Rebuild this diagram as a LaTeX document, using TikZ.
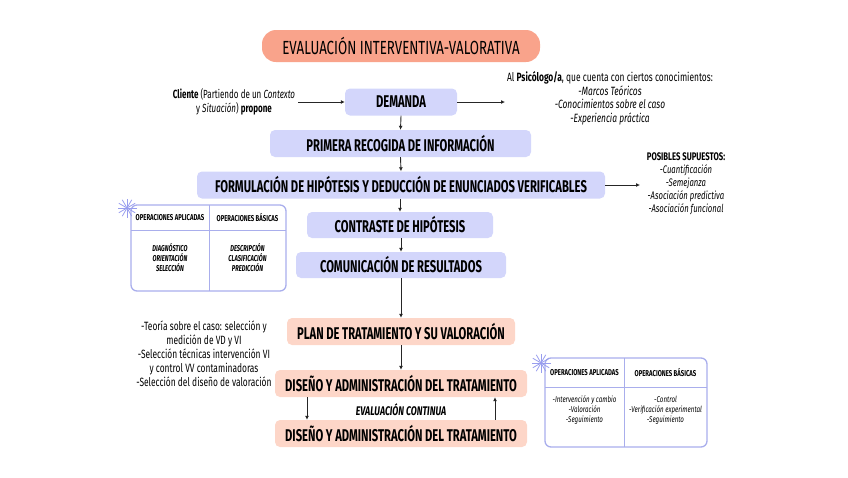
\documentclass[tikz,border=0pt]{standalone}
\usepackage{fontspec}
\usetikzlibrary{arrows.meta,calc}
\newfontfamily\cond[FakeStretch=0.66]{Fira Sans}
\newfontfamily\condt[FakeStretch=0.70]{Fira Sans}
\newfontfamily\condn[FakeStretch=0.68]{Fira Sans}
\newfontfamily\condr[FakeStretch=0.73]{Fira Sans}
\definecolor{lav}{HTML}{D3D6FB}
\definecolor{lavline}{HTML}{A9AEEC}
\definecolor{peach}{HTML}{FDD6C8}
\definecolor{salmon}{HTML}{F9A38B}
\tikzset{
  box/.style={rounded corners=5pt, inner sep=0pt, minimum height=27pt, text=black,
    font=\cond\bfseries\fontsize{17}{19}\selectfont},
  lavbox/.style={box, fill=lav},
  peachbox/.style={box, fill=peach},
  note/.style={align=center, font=\condt\fontsize{12}{13.5}\selectfont, inner sep=0pt},
  arr/.style={-{Latex[length=4pt,width=4pt]}, line width=0.9pt, black!85},
  tbl/.style={draw=lavline, line width=1.3pt, rounded corners=6pt},
  tline/.style={draw=lavline, line width=1pt},
  th/.style={font=\condt\bfseries\fontsize{8.5}{10}\selectfont, inner sep=0pt, align=center},
  td/.style={font=\condn\bfseries\itshape\fontsize{8.5}{10}\selectfont, inner sep=0pt, align=center},
  starline/.style={draw=lavline!90!blue, line width=0.8pt}
}
\begin{document}
\begin{tikzpicture}[x=1pt,y=-1pt]
\useasboundingbox (0,0) rectangle (848,477);
% title
\node[box, fill=salmon, rounded corners=14pt, minimum width=278pt, minimum height=32pt,
  font=\condt\fontsize{19}{21}\selectfont] (title) at (401,46) {EVALUACIÓN INTERVENTIVA-VALORATIVA};
% main chain
\node[lavbox, minimum width=112pt] (dem) at (401,102) {DEMANDA};
\node[lavbox, minimum width=261pt] (prim) at (400.5,143.5) {PRIMERA RECOGIDA DE INFORMACIÓN};
\node[lavbox, minimum width=408pt] (form) at (401,185) {FORMULACIÓN DE HIPÓTESIS Y DEDUCCIÓN DE ENUNCIADOS VERIFICABLES};
\node[lavbox, minimum width=186pt, minimum height=26pt] (cont) at (400,225) {CONTRASTE DE HIPÓTESIS};
\node[lavbox, minimum width=210pt, minimum height=26pt] (com) at (401,265) {COMUNICACIÓN DE RESULTADOS};
\node[peachbox, minimum width=228pt] (plan) at (401,331.5) {PLAN DE TRATAMIENTO Y SU VALORACIÓN};
\node[peachbox, minimum width=252pt] (dis1) at (401,383.5) {DISEÑO Y ADMINISTRACIÓN DEL TRATAMIENTO};
\node[peachbox, minimum width=252pt] (dis2) at (401,433.5) {DISEÑO Y ADMINISTRACIÓN DEL TRATAMIENTO};
\node[note, font=\condt\bfseries\itshape\fontsize{12.5}{14}\selectfont] (evc) at (401,410) {EVALUACIÓN CONTINUA};
% side texts
\node[note, font=\condn\fontsize{11.8}{13.5}\selectfont] (cli) at (234,102) {\textbf{Cliente} (Partiendo de un \textit{Contexto}\\ y \textit{Situación}) \textbf{propone}};
\node[note] (psi) at (610,98.5) {Al \textbf{Psicólogo/a}, que cuenta con ciertos conocimientos:\\ \textit{-Marcos Teóricos}\\ \textit{-Conocimientos sobre el caso}\\ \textit{-Experiencia práctica}};
\node[note, font=\condt\fontsize{11}{13}\selectfont] (sup) at (686,184) {\textbf{POSIBLES SUPUESTOS:}\\ \textit{-Cuantificación}\\ \textit{-Semejanza}\\ \textit{-Asociación predictiva}\\ \textit{-Asociación funcional}};
\node[note, font=\condt\fontsize{12}{14}\selectfont] (teo) at (204,354) {-Teoría sobre el caso: selección y\\ medición de VD y VI\\ -Selección técnicas intervención VI\\ y control VV contaminadoras\\ -Selección del diseño de valoración};
% connectors
\coordinate (cliE) at (298,102);
\coordinate (psiW) at (505,102);
\coordinate (supW) at (640,185);
\draw[arr] (cliE) -- (dem.west);
\draw[arr] (dem.east) -- (psiW);
\draw[arr] (form.east) -- (supW);
\draw[arr] (dem.south) -- (prim.north);
\draw[arr] (prim.south) -- (form.north);
\draw[arr] (form.south -| cont.north) -- (cont.north);
\draw[arr] (cont.south -| com.north) -- (com.north);
\draw[arr] (com.south) -- (plan.north);
\draw[arr] (plan.south) -- (dis1.north);
\draw[arr] (dis1.south -| 307,0) -- (dis2.north -| 307,0);
\draw[arr] (dis2.north -| 495,0) -- (dis1.south -| 495,0);
% left table
\draw[tbl] (131,205) rectangle (286,291);
\draw[tline] (131,230) -- (286,230);
\draw[tline] (209,205) -- (209,291);
\node[th] (la) at (170,217.5) {OPERACIONES APLICADAS};
\node[th] (lb) at (247.5,217.5) {OPERACIONES BÁSICAS};
\node[td] (lc) at (170,258) {DIAGNÓSTICO\\ ORIENTACIÓN\\ SELECCIÓN};
\node[td] (ld) at (247.5,258) {DESCRIPCIÓN\\ CLASIFICACIÓN\\ PREDICCIÓN};
\foreach \a in {0,30,...,150} \draw[starline] ($(127,208)+(\a:9.5)$) -- ($(127,208)+(\a+180:9.5)$);
% right table
\draw[tbl] (545,358) rectangle (707,447);
\draw[tline] (545,387) -- (707,387);
\draw[tline] (624,358) -- (624,447);
\node[th] (ra) at (584.5,372.5) {OPERACIONES APLICADAS};
\node[th] (rb) at (665.5,372.5) {OPERACIONES BÁSICAS};
\node[td, font=\condr\itshape\fontsize{8.5}{10}\selectfont] (rc) at (584.5,410) {-Intervención y cambio\\ -Valoración\\ -Seguimiento};
\node[td, font=\condr\itshape\fontsize{8.5}{10}\selectfont] (rd) at (665.5,410) {-Control\\ -Verificación experimental\\ -Seguimiento};
\foreach \a in {0,30,...,150} \draw[starline] ($(541,363)+(\a:9.5)$) -- ($(541,363)+(\a+180:9.5)$);
\end{tikzpicture}
\end{document}
